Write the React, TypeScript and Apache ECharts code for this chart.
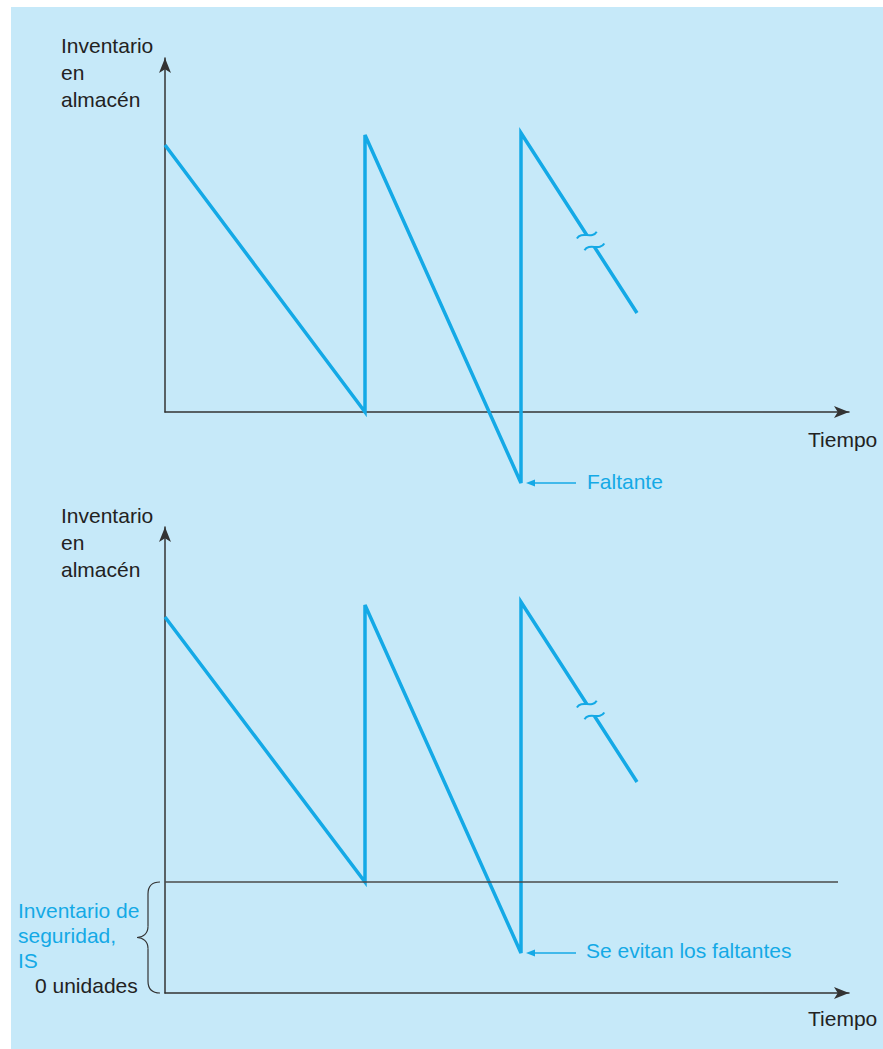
import React, { useEffect, useRef } from "react";
import * as echarts from "echarts";

// ---------- data ----------
const timePoints = [0, 20, 20, 35.6, 35.6, 47.2];
const inventoryNoSafety = [133.5, 0, 138.5, -35.5, 139.5, 49.5];
const inventoryWithSafety = [188, 55.5, 194, 20, 195.5, 105.5];
const safetyStock = 55.5;
const safetyLineEnd = 67.3;
const timeMax = 68.4;
const yMaxTop = 177;
const yMaxBottom = 233;
const breakFraction = 0.6;

const yAxisLabel = ["Inventario", "en", "almacén"];
const xAxisLabel = "Tiempo";
const shortageLabel = "Faltante";
const avoidedLabel = "Se evitan los faltantes";
const safetyLabel = ["Inventario de", "seguridad,", "IS"];
const zeroLabel = "0 unidades";

// ---------- styles ----------
const BG = "#c6e9f9";
const BLUE = "#14a9e6";
const AXIS = "#333333";
const FONT = "'Liberation Sans', Arial, sans-serif";
const FS = 21;

const renderBreak = (params: any, api: any) => {
  const p0 = api.coord([api.value(0), api.value(1)]);
  const p1 = api.coord([api.value(2), api.value(3)]);
  const dx = p1[0] - p0[0];
  const dy = p1[1] - p0[1];
  const len = Math.hypot(dx, dy);
  const ux = dx / len;
  const uy = dy / len;
  const cx = p0[0] + dx * breakFraction;
  const cy = p0[1] + dy * breakFraction;
  const half = 7;
  const c1 = [cx - ux * half, cy - uy * half];
  const c2 = [cx + ux * half, cy + uy * half];
  const wl = Math.hypot(20, 7);
  const wx = 20 / wl;
  const wy = -7 / wl;
  const nx = wy;
  const ny = -wx;
  const wave = (c: number[]) => {
    const ax = c[0] - wx * 10.5;
    const ay = c[1] - wy * 10.5;
    return {
      type: "bezierCurve",
      shape: {
        x1: ax,
        y1: ay,
        x2: c[0] + wx * 10.5,
        y2: c[1] + wy * 10.5,
        cpx1: ax + wx * 7 + nx * 6,
        cpy1: ay + wy * 7 + ny * 6,
        cpx2: ax + wx * 14 - nx * 6,
        cpy2: ay + wy * 14 - ny * 6,
      },
      style: { stroke: BLUE, lineWidth: 2, fill: "none" },
    };
  };
  return {
    type: "group",
    children: [
      {
        type: "line",
        shape: { x1: c1[0], y1: c1[1], x2: c2[0], y2: c2[1] },
        style: { stroke: BG, lineWidth: 8 },
      },
      wave(c1),
      wave(c2),
    ],
  };
};

const axisX = (gridIndex: number) => ({
  type: "value",
  gridIndex,
  min: 0,
  max: timeMax,
  axisLine: {
    show: true,
    onZero: false,
    symbol: ["none", "arrow"],
    symbolSize: [9, 15],
    lineStyle: { color: AXIS, width: 1.5 },
  },
  axisTick: { show: false },
  axisLabel: { show: false },
  splitLine: { show: false },
});

const axisY = (gridIndex: number, max: number) => ({
  type: "value",
  gridIndex,
  min: 0,
  max,
  axisLine: {
    show: true,
    onZero: false,
    symbol: ["none", "arrow"],
    symbolSize: [9, 15],
    lineStyle: { color: AXIS, width: 1.5 },
  },
  axisTick: { show: false },
  axisLabel: { show: false },
  splitLine: { show: false },
});

const text = (str: string, x: number, y: number, color: string) => ({
  type: "text",
  x,
  y,
  z: 20,
  style: {
    text: str,
    fill: color,
    fontSize: FS,
    fontFamily: FONT,
    align: "left",
    verticalAlign: "middle",
  },
});

export default function App() {
  const ref = useRef<HTMLDivElement>(null);

  useEffect(() => {
    if (!ref.current) return;
    const chart = echarts.init(ref.current, undefined, { renderer: "svg" });
    const n = timePoints.length;
    const topData = timePoints.map((t, i) => [t, inventoryNoSafety[i]]);
    const botData = timePoints.map((t, i) => [t, inventoryWithSafety[i]]);
    const lineStyle = { color: BLUE, width: 3.5, join: "miter", cap: "butt" };

    chart.setOption({
      animation: false,
      backgroundColor: BG,
      grid: [
        { left: 165, top: 58, width: 684, height: 354 },
        { left: 165, top: 527, width: 684, height: 466 },
      ],
      xAxis: [axisX(0), axisX(1)],
      yAxis: [axisY(0, yMaxTop), axisY(1, yMaxBottom)],
      series: [
        {
          type: "line",
          xAxisIndex: 0,
          yAxisIndex: 0,
          data: topData,
          showSymbol: false,
          clip: false,
          lineStyle,
          z: 3,
        },
        {
          type: "line",
          xAxisIndex: 1,
          yAxisIndex: 1,
          data: botData,
          showSymbol: false,
          clip: false,
          lineStyle,
          z: 3,
          markLine: {
            silent: true,
            symbol: ["none", "none"],
            label: { show: false },
            lineStyle: { color: "#4a4a4a", width: 1.5, type: "solid" },
            data: [[{ coord: [0, safetyStock] }, { coord: [safetyLineEnd, safetyStock] }]],
          },
        },
        {
          type: "custom",
          xAxisIndex: 0,
          yAxisIndex: 0,
          z: 5,
          encode: { x: [0, 2], y: [1, 3] },
          data: [[timePoints[n - 2], inventoryNoSafety[n - 2], timePoints[n - 1], inventoryNoSafety[n - 1]]],
          renderItem: renderBreak,
        },
        {
          type: "custom",
          xAxisIndex: 1,
          yAxisIndex: 1,
          z: 5,
          encode: { x: [0, 2], y: [1, 3] },
          data: [[timePoints[n - 2], inventoryWithSafety[n - 2], timePoints[n - 1], inventoryWithSafety[n - 1]]],
          renderItem: renderBreak,
        },
      ],
    });

    const trTop = chart.convertToPixel({ gridIndex: 0 } as any, [timePoints[3], inventoryNoSafety[3]]) as number[];
    const trBot = chart.convertToPixel({ gridIndex: 1 } as any, [timePoints[3], inventoryWithSafety[3]]) as number[];
    const ssY = (chart.convertToPixel({ gridIndex: 1 } as any, [0, safetyStock]) as number[])[1];
    const zeroBot = chart.convertToPixel({ gridIndex: 1 } as any, [0, 0]) as number[];
    const zeroTop = chart.convertToPixel({ gridIndex: 0 } as any, [0, 0]) as number[];

    const arrow = (p: number[]) => [
      {
        type: "polygon",
        z: 20,
        shape: { points: [[p[0] + 5, p[1]], [p[0] + 14, p[1] - 3.5], [p[0] + 14, p[1] + 3.5]] },
        style: { fill: BLUE },
      },
      {
        type: "line",
        z: 20,
        shape: { x1: p[0] + 12, y1: p[1], x2: p[0] + 55, y2: p[1] },
        style: { stroke: BLUE, lineWidth: 1.5 },
      },
    ];

    const bx = zeroBot[0] - 17;
    const tipX = bx - 11;
    const midY = (ssY + zeroBot[1]) / 2;
    const bStyle = { stroke: "#333", lineWidth: 1.2, fill: "none" };
    const brace = [
      { type: "bezierCurve", shape: { x1: bx + 12, y1: ssY, x2: bx, y2: ssY + 12, cpx1: bx + 4, cpy1: ssY, cpx2: bx, cpy2: ssY + 4 } },
      { type: "line", shape: { x1: bx, y1: ssY + 12, x2: bx, y2: midY - 11 } },
      { type: "bezierCurve", shape: { x1: bx, y1: midY - 11, x2: tipX, y2: midY, cpx1: bx, cpy1: midY - 4, cpx2: bx - 5, cpy2: midY } },
      { type: "bezierCurve", shape: { x1: tipX, y1: midY, x2: bx, y2: midY + 11, cpx1: bx - 5, cpy1: midY, cpx2: bx, cpy2: midY + 4 } },
      { type: "line", shape: { x1: bx, y1: midY + 11, x2: bx, y2: zeroBot[1] - 12 } },
      { type: "bezierCurve", shape: { x1: bx, y1: zeroBot[1] - 12, x2: bx + 12, y2: zeroBot[1], cpx1: bx, cpy1: zeroBot[1] - 4, cpx2: bx + 4, cpy2: zeroBot[1] } },
    ].map((e) => ({ ...e, z: 20, style: bStyle }));

    const lh = 27;
    chart.setOption({
      graphic: {
        elements: [
          { type: "rect", z: 30, shape: { x: 0, y: 0, width: 11, height: 1049 }, style: { fill: "#ffffff" } },
          { type: "rect", z: 30, shape: { x: 0, y: 0, width: 883, height: 7 }, style: { fill: "#ffffff" } },
          ...yAxisLabel.map((s, i) => text(s, 61, 45 + i * lh, "#222")),
          ...yAxisLabel.map((s, i) => text(s, 61, 515 + i * lh, "#222")),
          text(xAxisLabel, 808, zeroTop[1] + 27, "#222"),
          text(xAxisLabel, 808, zeroBot[1] + 25, "#222"),
          ...arrow(trTop),
          text(shortageLabel, trTop[0] + 66, trTop[1] - 2, BLUE),
          ...arrow(trBot),
          text(avoidedLabel, trBot[0] + 65, trBot[1] - 3, BLUE),
          ...safetyLabel.map((s, i) => text(s, 18, 910 + i * 25, BLUE)),
          text(zeroLabel, 35, 985, "#222"),
          ...brace,
        ],
      },
    });

    return () => chart.dispose();
  }, []);

  return (
    <div style={{ position: "fixed", left: 0, top: 0, width: 883, height: 1049, background: "#fff" }}>
      <div ref={ref} style={{ width: 883, height: 1049 }} />
    </div>
  );
}
